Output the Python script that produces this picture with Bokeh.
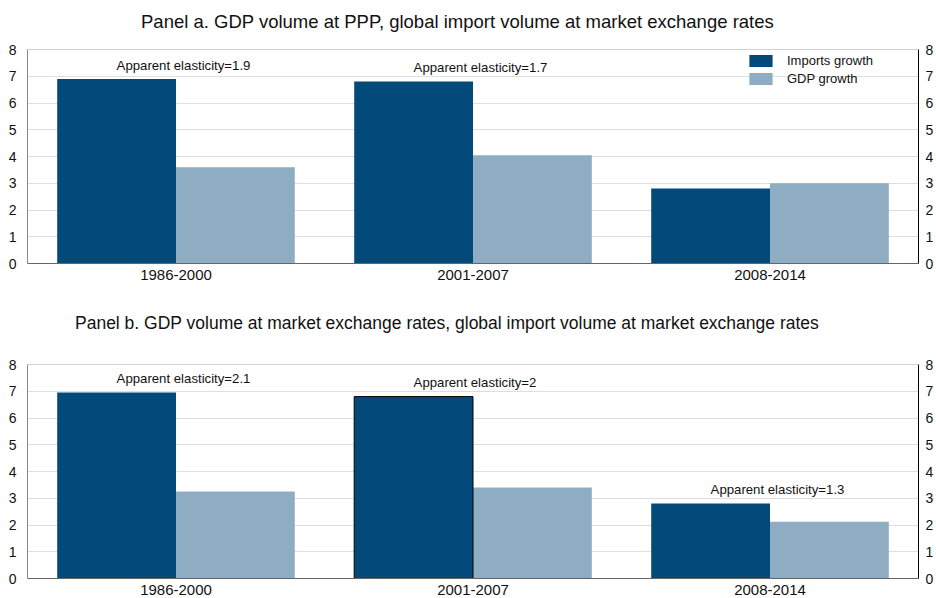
from bokeh.plotting import figure
from bokeh.models import (FactorRange, Range1d, LinearAxis, ColumnDataSource, Legend, LegendItem,
                          Span, Div, CDSView, IndexFilter, FixedTicker)
from bokeh.transform import dodge
from bokeh.layouts import column
from bokeh.core.properties import value
from bokeh.embed import file_html
from bokeh.resources import INLINE

categories = ["1986-2000", "2001-2007", "2008-2014"]
imports_a = [6.9, 6.8, 2.8]
gdp_a = [3.6, 4.05, 3.0]
elasticity_a = ["1.9", "1.7", ""]
imports_b = [6.95, 6.8, 2.8]
gdp_b = [3.25, 3.4, 2.12]
elasticity_b = ["2.1", "2", "1.3"]
y_ticks = [0, 1, 2, 3, 4, 5, 6, 7, 8]
title_a = "Panel a. GDP volume at PPP, global import volume at market exchange rates"
title_b = "Panel b. GDP volume at market exchange rates, global import volume at market exchange rates"

FONT = "Liberation Sans"
DARK = "#034A7B"
LIGHT = "#8FADC2"
W = 936


def make_title(text, height, pad_top, pad_left, size):
    html = ('<div style="font-family:\'Liberation Sans\'; font-size:%s; color:#111111; '
            'line-height:22px; white-space:nowrap; padding-top:%dpx; padding-left:%dpx;">%s</div>'
            % (size, pad_top, pad_left, text))
    return Div(text=html, width=W, height=height, margin=(0, 0, 0, 0))


def make_panel(imports, gdp, elast, height, top, bottom, legend=False, outline_idx=None):
    frame_h = height - top - bottom
    p = figure(x_range=FactorRange(*categories), y_range=Range1d(0, 8),
               width=W, height=height, output_backend="svg", toolbar_location=None,
               min_border_left=27, min_border_right=18, min_border_top=top, min_border_bottom=bottom,
               margin=(0, 0, 0, 0))
    p.outline_line_color = None
    p.background_fill_color = "white"
    p.border_fill_color = "white"

    src = ColumnDataSource(dict(cat=categories, imports=imports, gdp=gdp,
                                top=[max(a, b) + 0.52 for a, b in zip(imports, gdp)],
                                label=["Apparent elasticity=" + e if e else "" for e in elast]))
    r1 = p.vbar(x=dodge("cat", -0.2, range=p.x_range), top="imports", width=0.4, source=src,
                fill_color=DARK, line_color=None)
    r2 = p.vbar(x=dodge("cat", 0.2, range=p.x_range), top="gdp", width=0.4, source=src,
                fill_color=LIGHT, line_color=None)
    if outline_idx is not None:
        p.vbar(x=dodge("cat", -0.2, range=p.x_range), top="imports", width=0.4, source=src,
               view=CDSView(filter=IndexFilter([outline_idx])), fill_color=None,
               line_color="black", line_width=1)
    p.text(x=dodge("cat", -0.2, range=p.x_range), y="top", text="label", source=src,
           text_font=value(FONT), text_font_size="13.2px", text_align="left",
           text_baseline="middle", text_color="#111111")

    p.ygrid.grid_line_color = "#dedede"
    p.ygrid.ticker = FixedTicker(ticks=y_ticks)
    p.xgrid.grid_line_color = None
    p.add_layout(Span(location=8, dimension="width", line_color="#a8a8a8", line_width=1))

    ya = p.yaxis[0]
    ya.ticker = FixedTicker(ticks=y_ticks)
    ya.axis_line_color = "#888888"
    ya.major_tick_line_color = None
    ya.minor_tick_line_color = None
    ya.major_label_text_font = FONT
    ya.major_label_text_font_size = "14px"
    ya.major_label_text_color = "#111111"
    ya.major_label_standoff = 5

    ra = LinearAxis(ticker=FixedTicker(ticks=y_ticks))
    ra.axis_line_color = "black"
    ra.major_tick_line_color = None
    ra.minor_tick_line_color = None
    ra.major_label_text_font = FONT
    ra.major_label_text_font_size = "14px"
    ra.major_label_text_color = "#111111"
    ra.major_label_standoff = 1
    p.add_layout(ra, "right")

    xa = p.xaxis[0]
    xa.axis_line_color = "#666666"
    xa.major_tick_line_color = None
    xa.minor_tick_line_color = None
    xa.major_label_text_font = FONT
    xa.major_label_text_font_size = "15px"
    xa.major_label_text_color = "#111111"
    xa.major_label_standoff = 0

    if legend:
        lg = Legend(items=[LegendItem(label="Imports growth", renderers=[r1]),
                           LegendItem(label="GDP growth", renderers=[r2])],
                    location=(719, frame_h - 4 - 33), orientation="vertical",
                    glyph_width=29, glyph_height=15, label_height=15, spacing=3,
                    padding=0, margin=0, label_standoff=12,
                    label_text_font=FONT, label_text_font_size="13px", label_text_color="#111111",
                    border_line_color=None, background_fill_alpha=0)
        p.add_layout(lg)
    return p


t1 = make_title(title_a, height=36, pad_top=11, pad_left=141, size="18.5px")
p1 = make_panel(imports_a, gdp_a, elasticity_a, height=254, top=13, bottom=27, legend=True)
t2 = make_title(title_b, height=50, pad_top=22, pad_left=75, size="17.5px")
p2 = make_panel(imports_b, gdp_b, elasticity_b, height=258, top=24, bottom=20, outline_idx=1)

layout = column(t1, p1, t2, p2, spacing=0)
open("out.html", "w").write(file_html(layout, INLINE))
